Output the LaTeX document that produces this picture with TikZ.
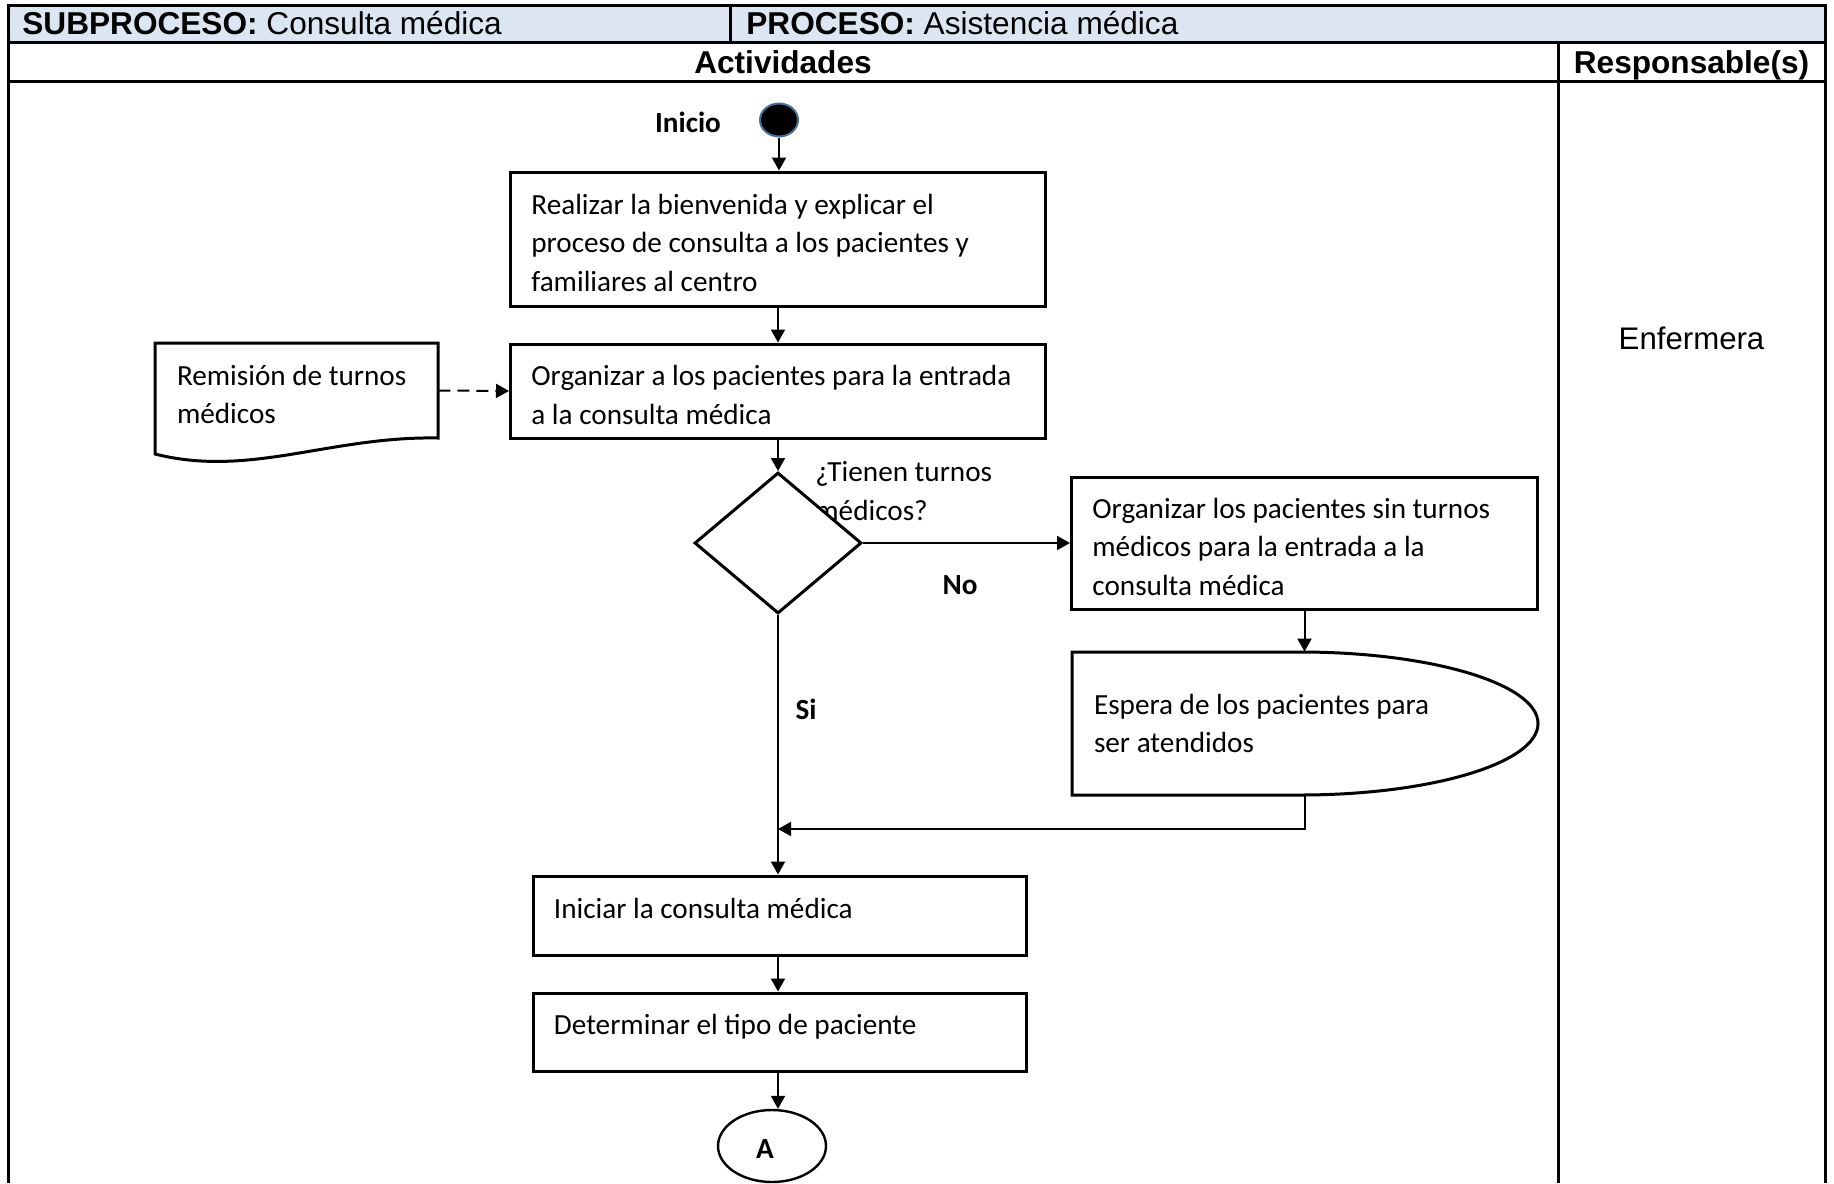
\documentclass[tikz,border=0pt]{standalone}
\usepackage{fontspec}
\setmainfont{Carlito}
\newfontfamily\hdrfont{Liberation Sans}
\usetikzlibrary{shapes.geometric,arrows.meta}
\definecolor{hdrfill}{HTML}{DCE6F2}
\definecolor{startedge}{HTML}{41719C}
\tikzset{
  tbl/.style={line width=1.5pt},
  hdrtxt/.style={font=\hdrfont\fontsize{15.8pt}{19pt}\selectfont, inner sep=0pt},
  flowtxt/.style={font=\fontsize{14.6pt}{19.3pt}\selectfont},
  boxtxt/.style={flowtxt, anchor=west, xshift=11pt, align=left, inner sep=0pt},
  procbox/.style={draw, line width=1.5pt, fill=white, inner sep=0pt},
  shapeline/.style={line width=1.5pt},
  conn/.style={line width=1pt, -{Triangle[length=6.5pt,width=7pt]}},
  dashconn/.style={conn, dash pattern=on 6pt off 3.5pt},
}
\begin{document}
\begin{tikzpicture}[x=0.5pt,y=-0.5pt]
\useasboundingbox (0,0) rectangle (1834,1183);

% table frame and header
\fill[hdrfill] (8,5) rectangle (1825,42);
\draw[tbl] (8,1183) -- (8,5) -- (1825,5) -- (1825,1183);
\draw[tbl] (8,42) -- (1825,42);
\draw[tbl] (8,81) -- (1825,81);
\draw[tbl] (730,5) -- (730,42);
\draw[tbl] (1558,42) -- (1558,1183);

\node[hdrtxt, anchor=base west] (sub) at (22,34) {\textbf{SUBPROCESO:} Consulta médica};
\node[hdrtxt, anchor=base west] (proc) at (746,34) {\textbf{PROCESO:} Asistencia médica};
\node[hdrtxt, anchor=base] (act) at (783,73) {\textbf{Actividades}};
\node[hdrtxt, anchor=base] (resp) at (1691.5,73) {\textbf{Responsable(s)}};
\node[hdrtxt, anchor=base, font=\hdrfont\fontsize{15.6pt}{19pt}\selectfont] (enf) at (1691.5,349) {Enfermera};

% start
\node[ellipse, fill=black, draw=startedge, line width=1pt, minimum width=19pt, minimum height=16.5pt, inner sep=0pt] (start) at (779,120) {};
\node[flowtxt, inner sep=0pt] (inicio) at (688,122) {\textbf{Inicio}};

% process boxes
\node[procbox, minimum width=267.5pt, minimum height=67pt,
  label={[boxtxt, yshift=-1.8pt]west:Realizar la bienvenida y explicar el\\proceso de consulta a los pacientes y\\familiares al centro}] (b1) at (778,239) {};
\node[procbox, minimum width=267.5pt, minimum height=47pt,
  label={[boxtxt, yshift=-2pt]west:Organizar a los pacientes para la entrada\\a la consulta médica}] (b2) at (778,391) {};

% document
\node[minimum width=141.5pt, minimum height=47.5pt, inner sep=0pt,
  label={[boxtxt, yshift=-2pt]west:Remisión de turnos\\médicos}] (doc) at (296.5,390.5) {};
\draw[shapeline] (155,343) -- (438,343) -- (438,438)
  .. controls (330,436) and (250,478) .. (155,454) -- cycle;

% decision (question text sits behind the diamond)
\node[flowtxt, anchor=west, align=left, inner sep=0pt] (q) at (815,491) {¿Tienen turnos\\médicos?};
\node[diamond, draw, fill=white, line width=1.5pt, minimum width=83.5pt, minimum height=70.5pt, inner sep=0pt] (dec) at (778,543) {};

\node[procbox, minimum width=233pt, minimum height=66pt,
  label={[boxtxt, yshift=-1.8pt]west:Organizar los pacientes sin turnos\\médicos para la entrada a la\\consulta médica}] (b3) at (1304.5,543) {};

% waiting shape
\node[minimum width=233pt, minimum height=71.5pt, inner sep=0pt,
  label={[boxtxt]west:Espera de los pacientes para\\ser atendidos}] (wait) at (1305,723.5) {};
\draw[shapeline] (1072,652) -- (1300,652)
  .. controls (1431.4,652) and (1538,684) .. (1538,723.5)
  .. controls (1538,763) and (1431.4,795) .. (1300,795) -- (1072,795) -- cycle;

\coordinate (join) at (778,829);

\node[procbox, minimum width=246.5pt, minimum height=39.5pt,
  label={[boxtxt, yshift=3.7pt]west:Iniciar la consulta médica}] (b4) at (779.5,915.5) {};
\node[procbox, minimum width=246.5pt, minimum height=39pt,
  label={[boxtxt, yshift=2.75pt]west:Determinar el tipo de paciente}] (b5) at (779.5,1032) {};

\node[ellipse, draw, line width=1.2pt, minimum width=54pt, minimum height=36pt, inner sep=0pt] (A) at (772,1146) {};
\node[flowtxt, inner sep=0pt] (Atxt) at (765,1149) {\textbf{A}};

\node[flowtxt, inner sep=0pt] (no) at (960,585) {\textbf{No}};
\node[flowtxt, inner sep=0pt] (si) at (806,709) {\textbf{Si}};

% connectors
\draw[conn] (start.south) -- (start.south |- b1.north);
\draw[conn] (b1.south) -- (b2.north);
\draw[dashconn] (doc.east) -- (b2.west);
\draw[conn] (b2.south) -- (dec.north);
\draw[conn] (dec.east) -- (b3.west);
\draw[conn] (b3.south) -- (b3.south |- wait.north);
\draw[conn] (wait.south) |- (join);
\draw[conn] (dec.south) -- (dec.south |- b4.north);
\draw[conn] (b4.south -| dec.south) -- (b5.north -| dec.south);
\draw[conn] (b5.south -| dec.south) -- (dec.south |- A.north);
\end{tikzpicture}
\end{document}
